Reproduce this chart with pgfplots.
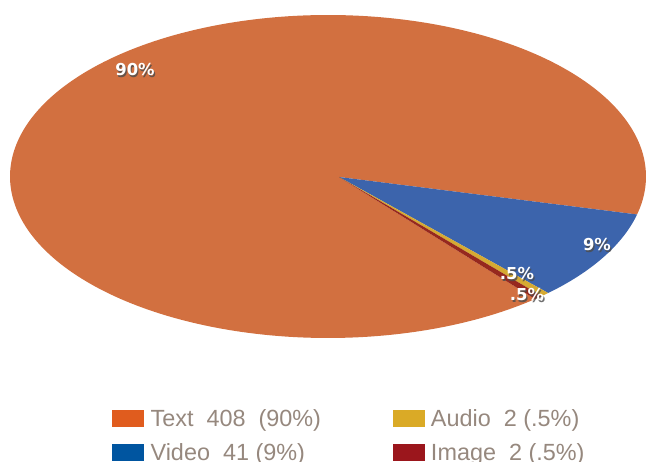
\documentclass[border=0pt]{standalone}
\usepackage{pgfplots}
\pgfplotsset{compat=1.18}
\usepackage{pgfplotstable}
\usepackage{fontspec}
\setmainfont{Liberation Sans}
\newfontfamily\lblfont{DejaVu Sans}

\definecolor{pieorange}{RGB}{210,112,64}
\definecolor{pieblue}{RGB}{60,100,172}
\definecolor{pieyellow}{RGB}{214,170,50}
\definecolor{piered}{RGB}{150,40,30}
\definecolor{legorange}{RGB}{224,92,30}
\definecolor{legblue}{RGB}{0,85,160}
\definecolor{legyellow}{RGB}{218,170,38}
\definecolor{legred}{RGB}{155,22,28}
\definecolor{legtext}{RGB}{150,136,126}

\pgfplotstableread{
cat value
Text 408
Video 41
Audio 2
Image 2
}\piedata
\pgfplotstablegetelem{0}{value}\of\piedata \let\vText\pgfplotsretval
\pgfplotstablegetelem{1}{value}\of\piedata \let\vVideo\pgfplotsretval
\pgfplotstablegetelem{2}{value}\of\piedata \let\vAudio\pgfplotsretval
\pgfplotstablegetelem{3}{value}\of\piedata \let\vImage\pgfplotsretval
\pgfmathsetmacro\total{\vText+\vVideo+\vAudio+\vImage}
\pgfmathsetmacro\aA{-13.6}
\pgfmathsetmacro\aB{\aA-360*\vVideo/\total}
\pgfmathsetmacro\aC{\aB-360*\vAudio/\total}
\pgfmathsetmacro\aD{\aC-360*\vImage/\total}
\pgfmathsetmacro\aE{\aA-360}
\def\cx{328}\def\cy{285.5}\def\rx{318}\def\ry{161.5}
\def\px{339}\def\py{285}

\tikzset{lbl/.style={font=\lblfont\bfseries\fontsize{16.5}{16.5}\selectfont, inner sep=0pt},
  shd/.style={lbl, text=black!70, opacity=0.8, xshift=1.2bp, yshift=-1.2bp}}

\begin{document}
\begin{tikzpicture}
\begin{axis}[
  width=652bp, height=462bp, scale only axis,
  xmin=0, xmax=652, ymin=0, ymax=462,
  hide axis, clip=false,
  legend columns=2,
  legend cell align=left,
  legend style={draw=none, fill=none, inner sep=0pt, column sep=0pt,
    row sep=12.5bp, at={(axis cs:112,52)}, anchor=north west,
    font=\fontsize{23.5}{23.5}\selectfont, text=legtext,
    nodes={inner sep=0pt, text height=16bp, text depth=5bp}},
]
\addplot[forget plot, fill=pieorange, draw=none, domain=\aE:\aD, samples=300, variable=\t]
  ({\cx+\rx*cos(\t)}, {\cy+\ry*sin(\t)}) -- (axis cs:\px,\py) -- cycle;
\addplot[forget plot, fill=pieblue, draw=none, domain=\aB:\aA, samples=40, variable=\t]
  ({\cx+\rx*cos(\t)}, {\cy+\ry*sin(\t)}) -- (axis cs:\px,\py) -- cycle;
\addplot[forget plot, fill=pieyellow, draw=none, domain=\aC:\aB, samples=5, variable=\t]
  ({\cx+\rx*cos(\t)}, {\cy+\ry*sin(\t)}) -- (axis cs:\px,\py) -- cycle;
\addplot[forget plot, fill=piered, draw=none, domain=\aD:\aC, samples=5, variable=\t]
  ({\cx+\rx*cos(\t)}, {\cy+\ry*sin(\t)}) -- (axis cs:\px,\py) -- cycle;

\addlegendimage{legend image code/.code={\fill[legorange] (0bp,-5.5bp) rectangle (31bp,10.5bp); \path (38bp,0bp);}}
\addlegendentry{\makebox[242bp][l]{Text\ \ 408\ \ (90\%)}}
\addlegendimage{legend image code/.code={\fill[legyellow] (0bp,-5.5bp) rectangle (31bp,10.5bp); \path (38bp,0bp);}}
\addlegendentry{Audio\ \ 2 (.5\%)}
\addlegendimage{legend image code/.code={\fill[legblue] (0bp,-5.5bp) rectangle (31bp,10.5bp); \path (38bp,0bp);}}
\addlegendentry{\makebox[242bp][l]{Video\ \ 41 (9\%)}}
\addlegendimage{legend image code/.code={\fill[legred] (0bp,-5.5bp) rectangle (31bp,10.5bp); \path (38bp,0bp);}}
\addlegendentry{Image\ \ 2 (.5\%)}

\node[shd] at (axis cs:135,392) {90\%};
\node[lbl, text=white] at (axis cs:135,392) {90\%};
\node[shd] at (axis cs:597,217) {9\%};
\node[lbl, text=white] at (axis cs:597,217) {9\%};
\node[shd] at (axis cs:517,188) {.5\%};
\node[lbl, text=white] at (axis cs:517,188) {.5\%};
\node[shd] at (axis cs:527,167) {.5\%};
\node[lbl, text=white] at (axis cs:527,167) {.5\%};
\coordinate (SW) at (rel axis cs:0,0);
\coordinate (NE) at (rel axis cs:1,1);
\end{axis}
\pgfresetboundingbox
\useasboundingbox (SW) rectangle (NE);
\end{tikzpicture}
\end{document}
